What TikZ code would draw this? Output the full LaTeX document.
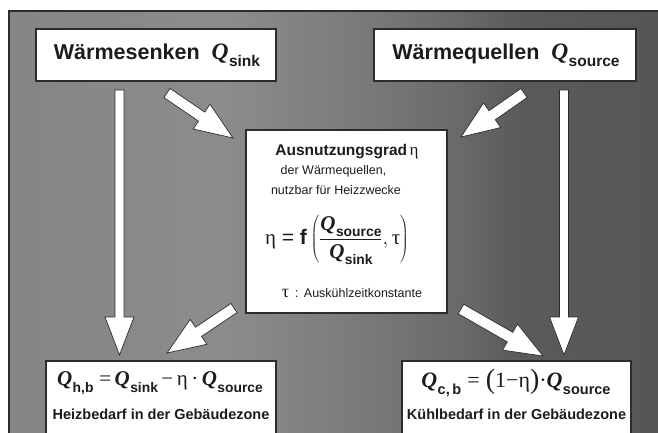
\documentclass[tikz,border=0pt]{standalone}
\usepackage{fontspec}
\usepackage{graphicx}
\setmainfont{Liberation Sans}
\newfontfamily\serifq{Liberation Serif}
\usetikzlibrary{calc}
\definecolor{edge}{HTML}{2C2C2C}
\definecolor{ink}{HTML}{1C1C1C}
\definecolor{gA}{gray}{0.52}
\definecolor{gB}{gray}{0.55}
\definecolor{gC}{gray}{0.49}
\definecolor{gD}{gray}{0.42}
\definecolor{gE}{gray}{0.355}
\definecolor{gF}{gray}{0.335}
\pgfdeclarehorizontalshading{bgshade}{100bp}{color(0bp)=(gA); color(25bp)=(gA); color(41bp)=(gB); color(50bp)=(gC); color(58.5bp)=(gD); color(63.5bp)=(gE); color(75bp)=(gF); color(100bp)=(gF)}
\newcommand\QQ{{\serifq\bfseries\itshape Q}}
\newcommand\Qsub[1]{\QQ\kern0.4pt\raisebox{-0.3em}{\scalebox{0.66}{\bfseries #1}}}
\newcommand\etag{{\serifq η}}
\newcommand\taug{{\serifq τ}}
\newcommand\fs[1]{\fontsize{#1}{#1}\selectfont}
\newcommand\blockarrow[5]{% tail, tip, shaft half, head half, head length
  \coordinate (ba-h) at ($(#2)!#5!(#1)$);
  \draw[blockstyle] ($(#1)!#3!90:(#2)$) -- ($(ba-h)!#3!-90:(#1)$) -- ($(ba-h)!#4!-90:(#1)$) -- (#2)
    -- ($(ba-h)!#4!90:(#1)$) -- ($(ba-h)!#3!90:(#1)$) -- ($(#1)!#3!-90:(#2)$) -- cycle;}
\begin{document}
\begin{tikzpicture}[x=1pt,y=-1pt,
  box/.style={draw=edge, line width=1.4pt, fill=white, inner sep=0pt},
  txt/.style={inner sep=0pt, text=ink},
  blockstyle/.style={draw=edge, line width=0.7pt, fill=white, line join=miter}]
\useasboundingbox (0,0) rectangle (658,432);
\fill[white] (0,0) rectangle (658,432);
\path[shading=bgshade, draw=edge, line width=1.4pt] (9,11) rectangle (672,446);

% boxes
\node[box, minimum width=240pt, minimum height=52pt] (sink) at (156,55) {};
\node[box, minimum width=262pt, minimum height=52pt] (source) at (505,55) {};
\node[box, minimum width=201pt, minimum height=183pt] (eta) at (346.5,221.5) {};
\node[box, minimum width=230pt, minimum height=84pt] (heat) at (161,403) {};
\node[box, minimum width=229pt, minimum height=84pt] (cool) at (516.5,403) {};

% arrow end points
\coordinate (vlT) at (119.5,90);   \coordinate (vlH) at (119.5,355);
\coordinate (vrT) at (564,90);     \coordinate (vrH) at (564,355);
\coordinate (ulT) at (167,93);     \coordinate (ulH) at (233,138);
\coordinate (urT) at (524,93);     \coordinate (urH) at (461,137);
\coordinate (llT) at (234,308);    \coordinate (llH) at (167,353);
\coordinate (lrT) at (461,309);    \coordinate (lrH) at (543,356);

\blockarrow{vlT}{vlH}{4.5pt}{14.5pt}{38pt}
\blockarrow{vrT}{vrH}{4.5pt}{14.5pt}{38pt}
\blockarrow{ulT}{ulH}{5.5pt}{15pt}{38pt}
\blockarrow{urT}{urH}{5.5pt}{15pt}{38pt}
\blockarrow{llT}{llH}{5.5pt}{15pt}{38pt}
\blockarrow{lrT}{lrH}{5.5pt}{15pt}{38pt}

% texts
\node[txt] (sinkT) at (157,55) {\fs{21.5}\bfseries Wärmesenken\ \ \fs{23.5}\Qsub{sink}};
\node[txt] (sourceT) at (506,55) {\fs{21.5}\bfseries Wärmequellen\ \ \fs{23.5}\Qsub{source}};

\node[txt] (etaA) at (347,152) {\fs{15.5}\bfseries Ausnutzungsgrad\,{\fs{17}\mdseries\etag}};
\node[txt] (etaB) at (333.5,171) {\fs{12.5}der Wärmequellen,};
\node[txt] (etaC) at (336,190) {\fs{12.5}nutzbar für Heizzwecke};
\node[txt] (etaF) at (337,240) {\fs{21}\etag\ = \textbf{f}\,$\left(\displaystyle\frac{\mbox{\Qsub{source}}}{\mbox{\Qsub{sink}}},\mbox{\taug}\right)$};
\node[txt] (etaG) at (352,293) {{\fs{18}\taug}\ \ {\fs{13}:}\ \ {\fs{12.5}Auskühlzeitkonstante}};

\node[txt] (heatF) at (160,383) {\fs{21}\Qsub{h,b}\ {\serifq =}\,\Qsub{sink}\,{\serifq −}\,\etag\,{\serifq ·}\,\Qsub{source}};
\node[txt] (heatT) at (161,414) {\fs{14.5}\bfseries Heizbedarf in der Gebäudezone};
\node[txt] (coolF) at (516,383) {\fs{22}\Qsub{c,\,b}\ {\serifq =}\ \raisebox{-0.05em}{\fs{28}\serifq(}{\serifq 1−}\etag\raisebox{-0.05em}{\fs{28}\serifq)}{\serifq ·}\Qsub{source}};
\node[txt] (coolT) at (516.5,414) {\fs{14.5}\bfseries Kühlbedarf in der Gebäudezone};
\end{tikzpicture}
\end{document}
